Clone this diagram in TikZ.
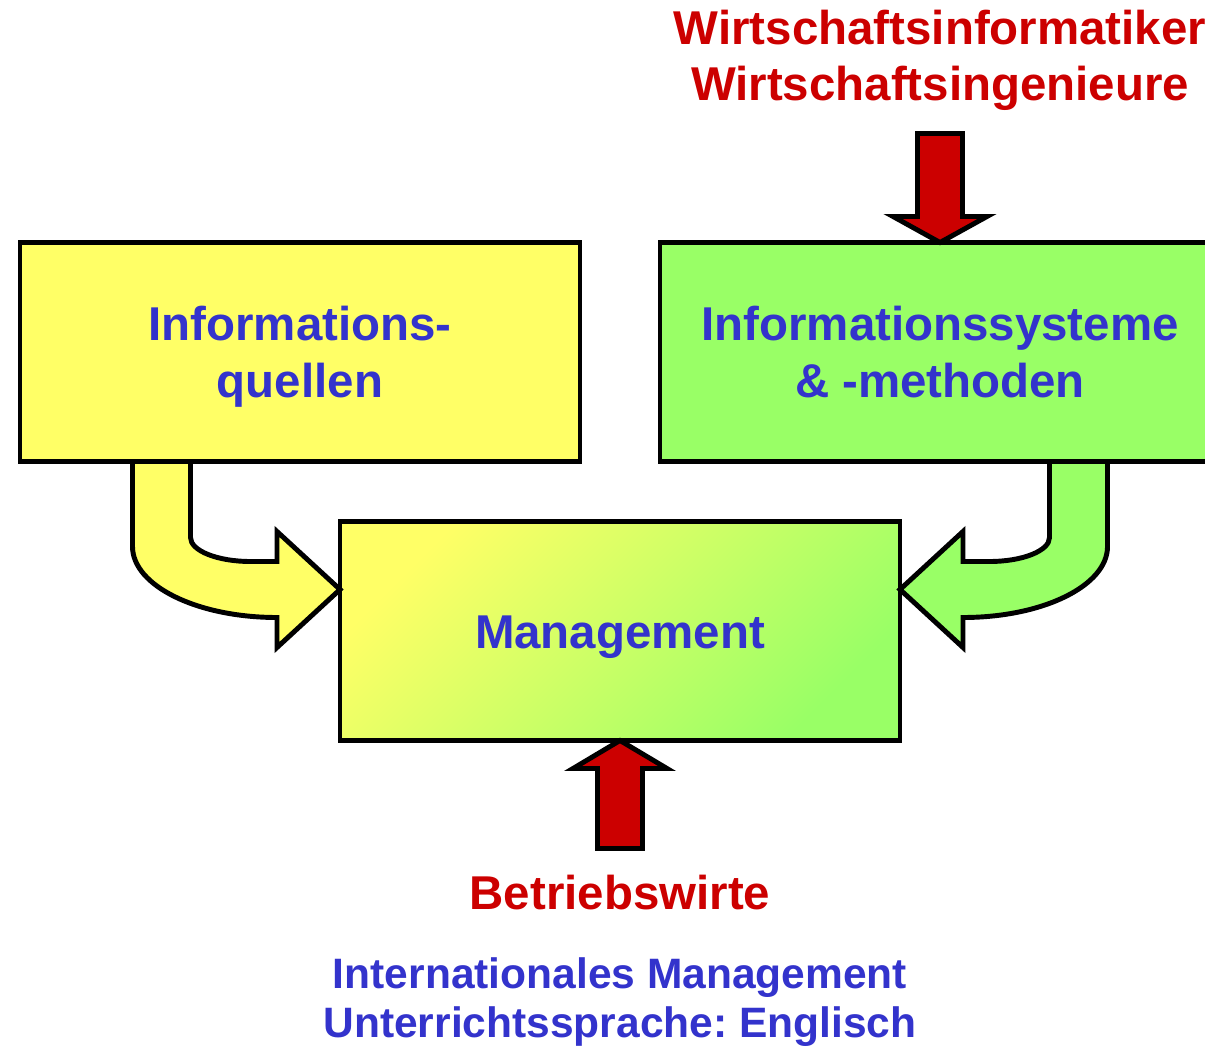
\documentclass[tikz,border=0pt]{standalone}
\usepackage{fontspec}
\setmainfont{Liberation Sans}
\usepackage{tikz}
\usetikzlibrary{positioning}
\usetikzlibrary{calc}
\frenchspacing

\definecolor{BoxYellow}{HTML}{FFFF66}
\definecolor{BoxGreen}{HTML}{99FF66}
\definecolor{TextBlue}{HTML}{3333CC}
\definecolor{TextRed}{HTML}{CC0000}

\tikzset{
	bigfont/.style={font=\bfseries\fontsize{13.5}{16.1}\selectfont, text height=9.7pt, text depth=0pt},
	twoline/.style={text height=25.8pt},
	box/.style={bigfont, draw=black, line width=1.4pt, minimum width=5.60cm, minimum height=2.19cm,
		inner sep=0pt, outer sep=0pt, align=center, text=TextBlue},
	bigarrow/.style={draw=black, line width=1.4pt, miter limit=10},
	redtext/.style={bigfont, align=center, text=TextRed, inner sep=0pt},
	bluetext/.style={align=center, text=TextBlue, inner sep=0pt,
		font=\bfseries\fontsize{12.1}{14.1}\selectfont, text height=22.8pt, text depth=0pt}
}

\begin{document}
\begin{tikzpicture}

	% ------------------------------------------------
	% Dimensions of the graphic
	\clip (0,0) rectangle (12.05,10.48);

	% ------------------------------------------------
	% Boxes
	\node[box, top color=BoxYellow, bottom color=BoxGreen, shading angle=45] (Mgmt) at (6.20,4.17) {Management};

	\node[box, twoline, fill=BoxYellow, above=0.60cm of Mgmt, xshift=-3.20cm] (InfoQuellen) {Informations-\\quellen};
	\node[box, twoline, fill=BoxGreen,  above=0.60cm of Mgmt, xshift=3.20cm]  (InfoSysteme) {Informationssysteme\\\& -methoden};

	% ------------------------------------------------
	% Relevant coordinates
	\path (Mgmt.north west)   +(0.00cm,-0.68cm) coordinate (TipL);
	\path (Mgmt.north east)   +(0.00cm,-0.68cm) coordinate (TipR);
	\path (InfoSysteme.north) +(0.00cm,1.87cm)  coordinate (TopLabel);
	\path (Mgmt.south)        +(0.00cm,-1.515cm) coordinate (BotLabel);
	\path (Mgmt.south)        +(0.00cm,-2.57cm) coordinate (NoteLabel);

	% ----------------
	% Curved arrows into the management box
	\draw[bigarrow, fill=BoxYellow] (TipL) -- ++(-0.63,0.58) -- ++(0,-0.30) -- ++(-0.265,0)
		arc[start angle=270, end angle=180, x radius=0.60, y radius=0.24]
		-- ++(0,0.76) -- ++(-0.58,0) -- ++(0,-0.85)
		arc[start angle=180, end angle=270, x radius=1.445, y radius=0.71]
		-- ++(0,-0.30) -- cycle;

	\draw[bigarrow, fill=BoxGreen] (TipR) -- ++(0.63,0.58) -- ++(0,-0.30) -- ++(0.265,0)
		arc[start angle=270, end angle=360, x radius=0.60, y radius=0.24]
		-- ++(0,0.76) -- ++(0.58,0) -- ++(0,-0.85)
		arc[start angle=0, end angle=-90, x radius=1.445, y radius=0.71]
		-- ++(0,-0.30) -- cycle;

	% ----------------
	% Straight red arrows
	\draw[bigarrow, fill=TextRed] (InfoSysteme.north) -- ++(-0.47,0.26) -- ++(0.245,0) -- ++(0,0.83)
		-- ++(0.45,0) -- ++(0,-0.83) -- ++(0.245,0) -- cycle;

	\draw[bigarrow, fill=TextRed] (Mgmt.south) -- ++(-0.47,-0.28) -- ++(0.245,0) -- ++(0,-0.80)
		-- ++(0.45,0) -- ++(0,0.80) -- ++(0.245,0) -- cycle;

	% ----------------
	% Labels
	\node[redtext, twoline] (Wirtschaft) at (TopLabel) {Wirtschaftsinformatiker\\Wirtschaftsingenieure};
	\node[redtext] (Betrieb) at (BotLabel) {Betriebswirte};
	\node[bluetext] (Note) at (NoteLabel) {Internationales Management\\Unterrichtssprache: Englisch};

\end{tikzpicture}
\end{document}
